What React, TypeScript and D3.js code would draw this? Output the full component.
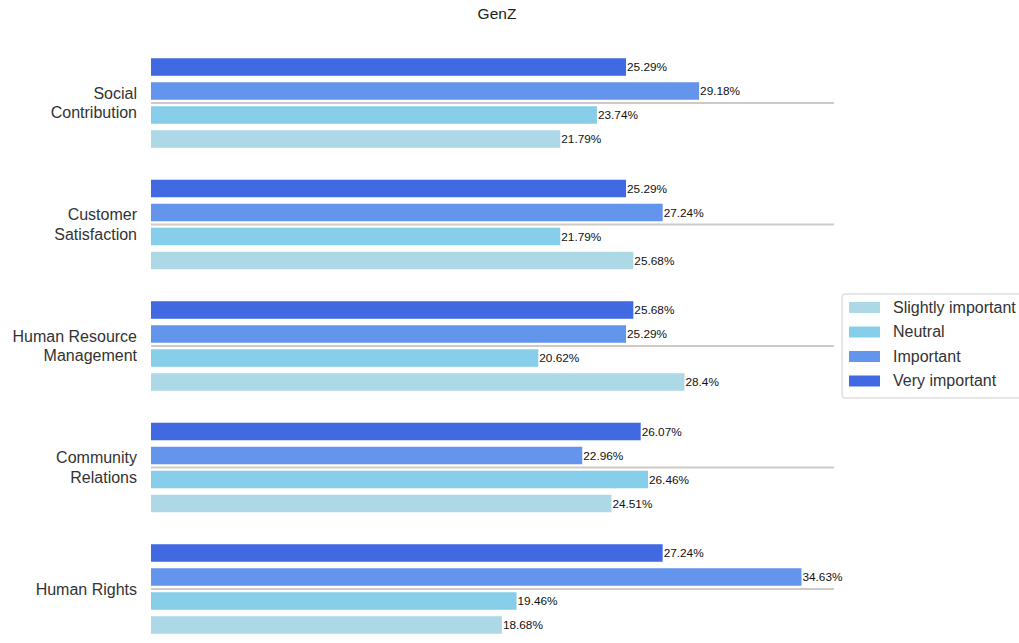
import React from "react";
import * as d3 from "d3";

// Survey categories (top to bottom) and the four importance levels.
const categories = [
  "Social Contribution",
  "Customer Satisfaction",
  "Human Resource Management",
  "Community Relations",
  "Human Rights",
];
const categoryLines = [
  ["Social", "Contribution"],
  ["Customer", "Satisfaction"],
  ["Human Resource", "Management"],
  ["Community", "Relations"],
  ["Human Rights"],
];

// Drawn top to bottom within each category
const seriesOrder = ["Very important", "Important", "Neutral", "Slightly important"];
// Legend order
const legendOrder = ["Slightly important", "Neutral", "Important", "Very important"];

const veryImportant = [25.29, 25.29, 25.68, 26.07, 27.24];
const important = [29.18, 27.24, 25.29, 22.96, 34.63];
const neutral = [23.74, 21.79, 20.62, 26.46, 19.46];
const slightlyImportant = [21.79, 25.68, 28.4, 24.51, 18.68];

const seriesValues: Record<string, number[]> = {
  "Very important": veryImportant,
  Important: important,
  Neutral: neutral,
  "Slightly important": slightlyImportant,
};

const colors: Record<string, string> = {
  "Very important": "#4169E1",
  Important: "#6495ED",
  Neutral: "#87CEEB",
  "Slightly important": "#ADD8E6",
};

const W = 1019;
const H = 643;
const FONT = "'Liberation Sans', Arial, Helvetica, sans-serif";

export default function App() {
  const maxVal = d3.max(Object.values(seriesValues).flat()) as number;
  const x = d3.scaleLinear().domain([0, maxVal * 1.05]).range([151, 834]);

  const groupStep = 121.5;
  const y0 = d3
    .scaleBand<string>()
    .domain(categories)
    .range([103 - groupStep / 2, 103 - groupStep / 2 + groupStep * categories.length])
    .padding(0);
  const bw = y0.bandwidth();
  const y1 = d3
    .scaleBand<string>()
    .domain(seriesOrder)
    .range([bw / 2 - 48, bw / 2 + 48])
    .paddingInner(0.27)
    .paddingOuter(0.135);

  return (
    <svg
      width={W}
      height={H}
      style={{ position: "absolute", left: 0, top: 0, background: "#fff" }}
      fontFamily={FONT}
    >
      <text x={497} y={19} textAnchor="middle" fontSize={15.5} fill="#222">
        GenZ
      </text>

      {categories.map((c, i) => {
        const g0 = y0(c) as number;
        const mid = g0 + bw / 2;
        const lines = categoryLines[i];
        return (
          <g key={c}>
            {seriesOrder.map((s) => {
              const v = seriesValues[s][i];
              const yb = g0 + (y1(s) as number);
              const h = y1.bandwidth();
              return (
                <g key={s}>
                  <rect
                    x={x(0)}
                    y={yb}
                    width={x(v) - x(0)}
                    height={h}
                    fill={colors[s]}
                  />
                  <text
                    x={x(v) + 1}
                    y={yb + h / 2}
                    dy="0.35em"
                    fontSize={11.8}
                    fill="#111"
                  >
                    {`${v}%`}
                  </text>
                </g>
              );
            })}
            <line x1={x(0)} x2={x.range()[1]} y1={mid} y2={mid} stroke="#cfcac6" strokeWidth={2} />
            {lines.map((t, k) => (
              <text
                key={t}
                x={137}
                y={mid + (k - (lines.length - 1) / 2) * 19.5}
                dy="0.35em"
                textAnchor="end"
                fontSize={16}
                fill="#333"
              >
                {t}
              </text>
            ))}
          </g>
        );
      })}

      <g transform="translate(842,294)">
        <rect x={0} y={0} width={180} height={104} rx={3} fill="#fff" stroke="#d0d0d0" />
        {legendOrder.map((s, i) => (
          <g key={s} transform={`translate(0,${13 + i * 24.5})`}>
            <rect x={7} y={-5} width={31} height={11} fill={colors[s]} />
            <text x={51} y={0} dy="0.35em" fontSize={16} fill="#333">
              {s}
            </text>
          </g>
        ))}
      </g>
    </svg>
  );
}
